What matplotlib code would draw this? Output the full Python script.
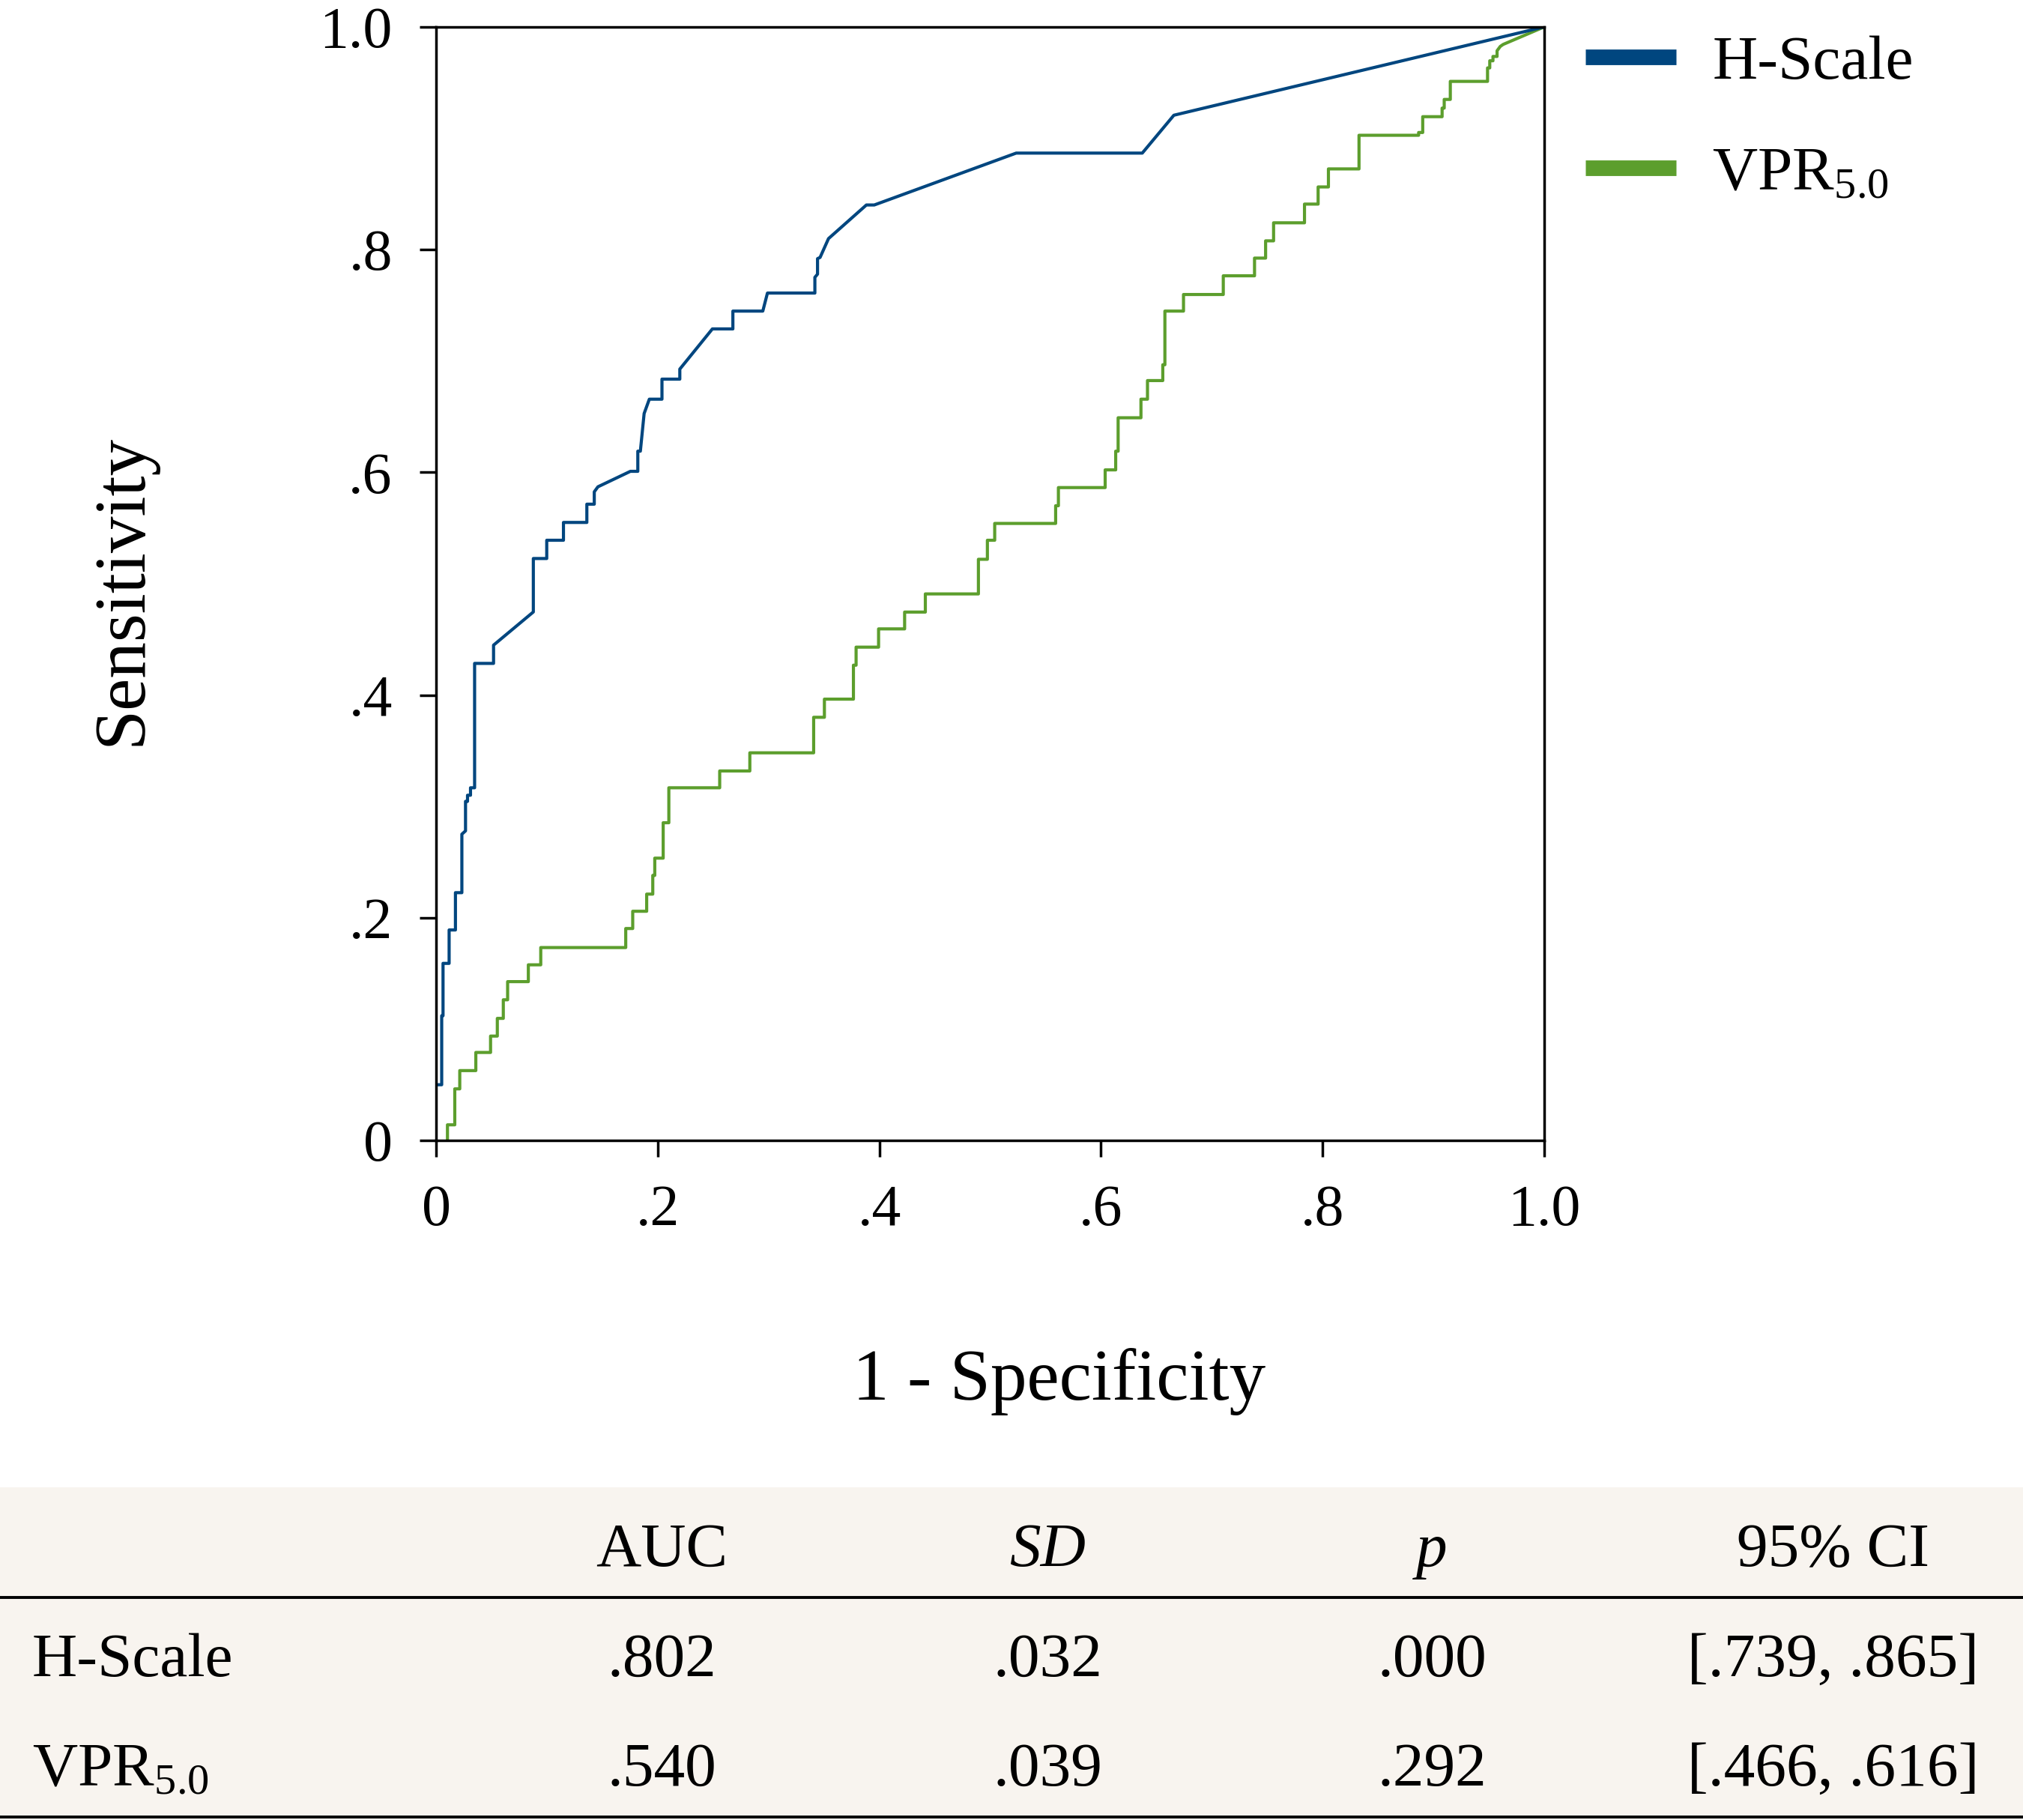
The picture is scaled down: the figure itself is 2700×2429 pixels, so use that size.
import matplotlib
matplotlib.use("Agg")
import matplotlib.pyplot as plt
from matplotlib.patches import Rectangle
from matplotlib.lines import Line2D

plt.rcParams['font.family'] = ['Liberation Serif', 'DejaVu Serif']
plt.rcParams['mathtext.fontset'] = 'custom'
plt.rcParams['mathtext.rm'] = 'Liberation Serif'
plt.rcParams['mathtext.it'] = 'Liberation Serif:italic'

# === DATA ===
h_fpr = [0.002, 0.005, 0.005, 0.0062, 0.0062, 0.0117, 0.0117, 0.0174, 0.0174, 0.0232,
         0.0232, 0.0265, 0.0265, 0.0283, 0.0283, 0.031, 0.031, 0.0347, 0.0347, 0.0518,
         0.0518, 0.0877, 0.0877, 0.0998, 0.0998, 0.1149, 0.1149, 0.136, 0.136, 0.1427,
         0.1427, 0.146, 0.1753, 0.182, 0.182, 0.1843, 0.1877, 0.1924, 0.2038, 0.2038,
         0.2199, 0.2199, 0.2493, 0.2678, 0.2678, 0.2948, 0.299, 0.3418, 0.3418, 0.3442,
         0.3442, 0.3465, 0.3541, 0.3883, 0.3954, 0.5235, 0.6373, 0.6658, 1.0]
h_tpr = [0.050, 0.050, 0.112, 0.112, 0.159, 0.159, 0.189, 0.189, 0.2225, 0.2225,
         0.275, 0.278, 0.3045, 0.3045, 0.310, 0.310, 0.3167, 0.3167, 0.4284, 0.4284,
         0.4448, 0.4746, 0.5226, 0.5226, 0.539, 0.539, 0.555, 0.555, 0.5714, 0.5714,
         0.5825, 0.587, 0.6009, 0.6009, 0.619, 0.619, 0.6528, 0.6657, 0.6657, 0.6837,
         0.6837, 0.6927, 0.7288, 0.7288, 0.7448, 0.7448, 0.761, 0.761, 0.7751, 0.778,
         0.7919, 0.793, 0.8099, 0.8401, 0.8401, 0.8867, 0.8867, 0.9207, 1.0]

v_fpr = [0.0102, 0.0102, 0.0168, 0.0168, 0.0213, 0.0213, 0.0358, 0.0358, 0.0491, 0.0491,
         0.0552, 0.0552, 0.0606, 0.0606, 0.0645, 0.0645, 0.0832, 0.0832, 0.0944, 0.0944,
         0.1711, 0.1711, 0.1774, 0.1774, 0.19, 0.19, 0.1955, 0.1955, 0.1973, 0.1973,
         0.2049, 0.2049, 0.21, 0.21, 0.2559, 0.2559, 0.2831, 0.2831, 0.3407, 0.3407,
         0.3504, 0.3504, 0.3766, 0.3766, 0.379, 0.379, 0.3993, 0.3993, 0.4228, 0.4228,
         0.4415, 0.4415, 0.4894, 0.4894, 0.4975, 0.4975, 0.5041, 0.5041, 0.5591, 0.5591,
         0.5616, 0.5616, 0.6038, 0.6038, 0.6133, 0.6133, 0.6155, 0.6155, 0.6361, 0.6361,
         0.642, 0.642, 0.6558, 0.6558, 0.6577, 0.6577, 0.6745, 0.6745, 0.7104, 0.7104,
         0.7386, 0.7386, 0.7486, 0.7486, 0.7558, 0.7558, 0.7837, 0.7837, 0.796, 0.796,
         0.8053, 0.8053, 0.8329, 0.8329, 0.8867, 0.8867, 0.8904, 0.8904, 0.9079, 0.9079,
         0.9098, 0.9098, 0.9153, 0.9153, 0.9489, 0.9489, 0.9509, 0.9509, 0.9538, 0.9538,
         0.9575, 0.9575, 0.9604, 0.963, 1.0]
v_tpr = [0.0, 0.014, 0.014, 0.0463, 0.0463, 0.0627, 0.0627, 0.079, 0.079, 0.0937,
         0.0937, 0.1096, 0.1096, 0.1263, 0.1263, 0.1426, 0.1426, 0.1577, 0.1577, 0.1732,
         0.1732, 0.1903, 0.1903, 0.2058, 0.2058, 0.2212, 0.2212, 0.238, 0.238, 0.2535,
         0.2535, 0.2853, 0.2853, 0.3167, 0.3167, 0.3318, 0.3318, 0.3481, 0.3481, 0.38,
         0.38, 0.3963, 0.3963, 0.4268, 0.4268, 0.443, 0.443, 0.4594, 0.4594, 0.4745,
         0.4745, 0.4908, 0.4908, 0.5219, 0.5219, 0.539, 0.539, 0.5541, 0.5541, 0.57,
         0.57, 0.5863, 0.5863, 0.6022, 0.6022, 0.619, 0.619, 0.649, 0.649, 0.6657,
         0.6657, 0.6824, 0.6824, 0.6966, 0.6966, 0.7448, 0.7448, 0.7597, 0.7597, 0.7765,
         0.7765, 0.7924, 0.7924, 0.8079, 0.8079, 0.8241, 0.8241, 0.8409, 0.8409, 0.8563,
         0.8563, 0.8725, 0.8725, 0.9027, 0.9027, 0.9052, 0.9052, 0.9194, 0.9194, 0.9271,
         0.9271, 0.9349, 0.9349, 0.9511, 0.9511, 0.9632, 0.9632, 0.9696, 0.9696, 0.9735,
         0.9735, 0.9786, 0.9825, 0.9843, 1.0]

ticks = [0, 0.2, 0.4, 0.6, 0.8, 1.0]
tick_labels = ['0', '.2', '.4', '.6', '.8', '1.0']

series_names = ['H-Scale', 'VPR$_{5.0}$']
table_header = ['AUC', 'SD', 'p', '95% CI']
table_rows = [['.802', '.032', '.000', '[.739, .865]'],
              ['.540', '.039', '.292', '[.466, .616]']]

blue = '#00467F'
green = '#5C9E2D'

# === FIGURE ===
fig = plt.figure(figsize=(27, 24.29), dpi=100)
ax = fig.add_axes([0.2156, 0.3734, 0.5477, 0.6118])

ax.plot(v_fpr, v_tpr, color=green, lw=3.0, label=series_names[1])
ax.plot(h_fpr, h_tpr, color=blue, lw=3.0, label=series_names[0])

ax.set_xlim(0, 1)
ax.set_ylim(0, 1)
ax.set_xticks(ticks)
ax.set_xticklabels(tick_labels)
ax.set_yticks(ticks)
ax.set_yticklabels(tick_labels)
ax.tick_params(direction='out', length=16, width=2.5, labelsize=56, pad=26)
for s in ax.spines.values():
    s.set_linewidth(2.5)

fig.text(0.5237, 0.231, '1 - Specificity', fontsize=70, ha='center', va='baseline')
fig.text(0.061, 0.676, 'Sensitivity', fontsize=70, ha='center', va='center', rotation=90)

# legend
handles, labels = ax.get_legend_handles_labels()
leg = ax.legend(handles[::-1], labels[::-1], loc='upper left',
                bbox_to_anchor=(2116 / 2700, 0.9808), bbox_transform=fig.transFigure,
                frameon=False, fontsize=60, handlelength=1.45, handletextpad=0.58,
                labelspacing=0.86, borderpad=0, borderaxespad=0)
for h in leg.legend_handles:
    h.set_linewidth(15)
    h.set_solid_capstyle('butt')

# === TABLE ===
fig.add_artist(Rectangle((0, 0), 1, (2429 - 1985) / 2429, transform=fig.transFigure,
                         facecolor='#F8F4EF', edgecolor='none', zorder=0))
fig.add_artist(Line2D([0, 1], [0.1223, 0.1223], transform=fig.transFigure, color='black', lw=2.8))
fig.add_artist(Line2D([0, 1], [0.0018, 0.0018], transform=fig.transFigure, color='black', lw=2.8))

col_x = [883 / 2700, 1398 / 2700, 1911 / 2700, 2447 / 2700]
header_y = 0.1396
row_y = [0.0790, 0.0189]
for i, h in enumerate(table_header):
    style = 'italic' if h in ('SD', 'p') else 'normal'
    fig.text(col_x[i], header_y, h, fontsize=60, ha='center', va='baseline', fontstyle=style)
for r, row in enumerate(table_rows):
    fig.text(43 / 2700, row_y[r], series_names[r], fontsize=60, ha='left', va='baseline')
    for i, v in enumerate(row):
        fig.text(col_x[i], row_y[r], v, fontsize=60, ha='center', va='baseline')

fig.savefig('out.png', dpi=100)
